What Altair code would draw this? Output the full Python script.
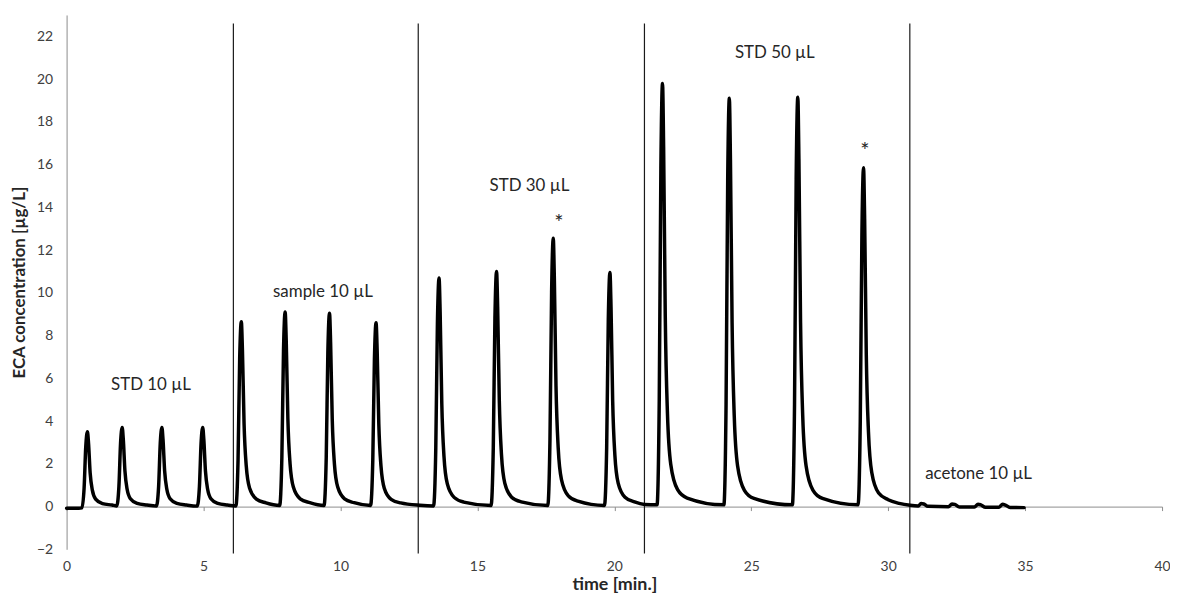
import altair as alt
import pandas as pd

# ---- chromatogram trace (time in min, signal in µg/L) ----
std10_time = [0.0, 0.45, 0.56, 0.64, 0.70, 0.76, 0.80, 0.86, 0.94, 1.06, 1.31, 1.66,
              1.83, 1.91, 1.97, 2.03, 2.07, 2.13, 2.21, 2.33, 2.58, 2.93,
              3.28, 3.36, 3.42, 3.48, 3.52, 3.58, 3.66, 3.78, 4.03, 4.38,
              4.77, 4.85, 4.91, 4.97, 5.01, 5.07, 5.15, 5.27, 5.52, 5.87]
std10_signal = [-0.08, -0.08, -0.06, 0.88, 2.80, 3.50, 2.98, 1.58, 0.77, 0.35, 0.14, 0.07,
                0.03, 0.93, 2.96, 3.70, 3.15, 1.67, 0.81, 0.37, 0.15, 0.07,
                0.02, 0.93, 2.96, 3.70, 3.15, 1.67, 0.81, 0.37, 0.15, 0.07,
                0.02, 0.93, 2.96, 3.70, 3.15, 1.67, 0.81, 0.37, 0.15, 0.07]

sample_time = [6.18, 6.26, 6.32, 6.38, 6.42, 6.48, 6.56, 6.68, 6.93, 7.28,
               7.78, 7.86, 7.92, 7.98, 8.02, 8.08, 8.16, 8.28, 8.53, 8.88,
               9.40, 9.48, 9.54, 9.60, 9.64, 9.70, 9.78, 9.90, 10.15, 10.50,
               11.10, 11.18, 11.24, 11.30, 11.34, 11.40, 11.48, 11.60, 11.85, 12.20]
sample_signal = [0.03, 2.16, 6.92, 8.65, 7.35, 3.89, 1.90, 0.87, 0.35, 0.17,
                 0.05, 2.28, 7.28, 9.10, 7.74, 4.10, 2.00, 0.91, 0.36, 0.18,
                 0.05, 2.26, 7.24, 9.05, 7.69, 4.07, 1.99, 0.91, 0.36, 0.18,
                 0.05, 2.15, 6.88, 8.60, 7.31, 3.87, 1.89, 0.86, 0.34, 0.17]

std30_time = [12.90, 13.40, 13.48, 13.54, 13.60, 13.64, 13.70, 13.78, 13.90, 14.15, 14.50,
              15.50, 15.58, 15.64, 15.70, 15.74, 15.80, 15.88, 16.00, 16.25, 16.60,
              17.57, 17.65, 17.71, 17.77, 17.81, 17.87, 17.95, 18.07, 18.32, 18.67,
              19.64, 19.72, 19.78, 19.84, 19.88, 19.94, 20.02, 20.14, 20.39, 20.74]
std30_signal = [0.06, 0.03, 2.68, 8.56, 10.70, 9.10, 4.82, 2.35, 1.07, 0.43, 0.21,
                0.05, 2.75, 8.80, 11.00, 9.35, 4.95, 2.42, 1.10, 0.44, 0.22,
                0.05, 3.14, 10.04, 12.55, 10.67, 5.65, 2.76, 1.26, 0.50, 0.25,
                0.05, 2.74, 8.76, 10.95, 9.31, 4.93, 2.41, 1.10, 0.44, 0.22]

std50_time = [21.10, 21.56, 21.64, 21.70, 21.76, 21.80, 21.86, 21.94, 22.06, 22.31, 22.66,
              24.00, 24.08, 24.14, 24.20, 24.24, 24.30, 24.38, 24.50, 24.75, 25.10,
              26.50, 26.58, 26.64, 26.70, 26.74, 26.80, 26.88, 27.00, 27.25, 27.60,
              28.90, 28.98, 29.04, 29.10, 29.14, 29.20, 29.28, 29.40, 29.65, 30.00, 30.40]
std50_signal = [0.10, 0.08, 4.95, 15.84, 19.80, 16.83, 8.91, 4.36, 1.98, 0.79, 0.40,
                0.08, 4.78, 15.28, 19.10, 16.24, 8.60, 4.20, 1.91, 0.76, 0.38,
                0.08, 4.79, 15.32, 19.15, 16.28, 8.62, 4.21, 1.92, 0.77, 0.38,
                0.08, 3.96, 12.68, 15.85, 13.47, 7.13, 3.49, 1.59, 0.63, 0.32, 0.15]

acetone_time = [30.80, 31.10, 31.20, 31.30, 31.45, 32.20, 32.33, 32.43, 32.60,
                33.15, 33.28, 33.38, 33.55, 34.05, 34.18, 34.28, 34.45, 34.96]
acetone_signal = [0.06, 0.03, 0.14, 0.12, 0.01, -0.01, 0.12, 0.10, -0.02,
                  -0.02, 0.11, 0.08, -0.03, -0.03, 0.11, 0.07, -0.04, -0.05]

# section dividers (time, min)
divider_time = [6.09, 12.84, 21.10, 30.79]

# group annotations
label_text = ["STD 10 µL", "sample 10 µL", "STD 30 µL", "STD 50 µL", "acetone 10 µL"]
label_time = [3.08, 9.36, 16.90, 25.86, 33.30]
label_value = [5.70, 10.05, 14.98, 21.20, 1.50]

# asterisk marks
star_text = ["*", "*"]
star_time = [17.98, 29.15]
star_value = [13.25, 16.65]

x_ticks = [0, 5, 10, 15, 20, 25, 30, 35, 40]
y_ticks = [-2, 0, 2, 4, 6, 8, 10, 12, 14, 16, 18, 20, 22]

trace = pd.DataFrame({
    "time": std10_time + sample_time + std30_time + std50_time + acetone_time,
    "signal": std10_signal + sample_signal + std30_signal + std50_signal + acetone_signal,
})
dividers = pd.DataFrame({"time": divider_time})
labels = pd.DataFrame({"time": label_time, "signal": label_value, "text": label_text})
stars = pd.DataFrame({"time": star_time, "signal": star_value, "text": star_text})

FONT = "Lato"
AXIS_GREY = "#8c8c8c"

xs = alt.Scale(domain=[0, 40], nice=False, zero=False)
ys = alt.Scale(domain=[-2, 23], nice=False, zero=False)

x_axis = alt.Axis(values=x_ticks, title="time [min.]", offset=-43, tickSize=4,
                  labelPadding=49, titlePadding=2, labelFontSize=14, titleFontSize=18,
                  titleFontWeight="bold", labelFlush=False, domainColor=AXIS_GREY,
                  tickColor=AXIS_GREY, grid=False)
y_axis = alt.Axis(values=y_ticks, title="ECA concentration [µg/L]", ticks=False,
                  labelPadding=14, titlePadding=8, labelFontSize=14, titleFontSize=17,
                  titleFontWeight="bold", labelFlush=False, domainColor=AXIS_GREY, grid=False)

rules = alt.Chart(dividers).mark_rule(color="#1a1a1a", strokeWidth=1.2).encode(
    x=alt.X("time:Q", scale=xs, axis=x_axis),
    y=alt.Y(datum=-2.2, scale=ys, axis=y_axis),
    y2=alt.Y2(datum=22.6),
)

line = alt.Chart(trace).mark_line(color="black", strokeWidth=3.5, interpolate="monotone",
                                  strokeJoin="round", strokeCap="round").encode(
    x=alt.X("time:Q", scale=xs, axis=x_axis),
    y=alt.Y("signal:Q", scale=ys, axis=y_axis),
)

text = alt.Chart(labels).mark_text(font=FONT, fontSize=17, color="#262626").encode(
    x=alt.X("time:Q", scale=xs),
    y=alt.Y("signal:Q", scale=ys),
    text="text:N",
)

star = alt.Chart(stars).mark_text(font=FONT, fontSize=22, color="#262626").encode(
    x=alt.X("time:Q", scale=xs),
    y=alt.Y("signal:Q", scale=ys),
    text="text:N",
)

chart = alt.layer(rules, line, text, star).properties(
    width=1103, height=538,
    autosize=alt.AutoSizeParams(type="none"),
    padding={"left": 59, "top": 5, "right": 8, "bottom": 47},
).configure_axis(
    labelFont=FONT, titleFont=FONT, labelColor="#404040", titleColor="#262626",
).configure_view(stroke=None)

chart.save("out.html", embed_options={"renderer": "svg", "actions": False})
